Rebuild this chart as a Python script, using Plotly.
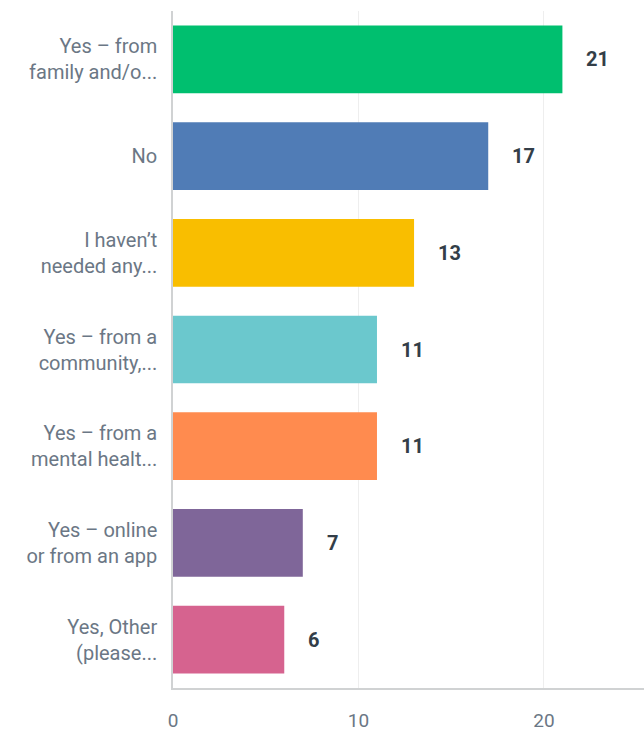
import plotly.graph_objects as go

# Survey answers, top to bottom as drawn
categories = [
    "Yes – from<br>family and/o...",
    "No",
    "I haven’t<br>needed any...",
    "Yes – from a<br>community,...",
    "Yes – from a<br>mental healt...",
    "Yes – online<br>or from an app",
    "Yes, Other<br>(please...",
]
counts = [21, 17, 13, 11, 11, 7, 6]
bar_colors = ["#00BF6F", "#507CB6", "#F9BE00", "#6BC8CD", "#FF8B4F", "#7F6699", "#D6638F"]
x_ticks = [0, 10, 20]

label_font = "Roboto"

fig = go.Figure(
    go.Bar(
        y=categories,
        x=counts,
        orientation="h",
        marker=dict(color=bar_colors, line=dict(width=0)),
        hoverinfo="skip",
    )
)

# Value labels to the right of each bar
for cat, val in zip(categories, counts):
    fig.add_annotation(
        x=val, y=cat, text=f"<b>{val}</b>", showarrow=False,
        xanchor="left", xshift=22,
        font=dict(family=label_font, size=20, color="#333E48"),
    )

fig.update_layout(
    width=644, height=735,
    margin=dict(l=173, r=0, t=11, b=47),
    paper_bgcolor="white", plot_bgcolor="white",
    bargap=0.3,
    showlegend=False,
    font=dict(family=label_font, size=20, color="#6B7785"),
)
fig.update_yaxes(
    categoryorder="array", categoryarray=categories[::-1],
    showline=True, linecolor="#D0D2D3", linewidth=1.5,
    showgrid=False, ticks="", ticklabelstandoff=10, automargin=False,
    tickfont=dict(family=label_font, size=20, color="#6B7785"),
)
fig.update_xaxes(
    range=[0, 25.4], tickvals=x_ticks,
    showline=True, linecolor="#D0D2D3", linewidth=1.5,
    showgrid=True, gridcolor="#EEEEEE", gridwidth=1,
    zeroline=False, ticks="", ticklabelstandoff=14, automargin=False,
    tickfont=dict(family=label_font, size=19, color="#6B7785"),
)

fig.write_html("out.html")
